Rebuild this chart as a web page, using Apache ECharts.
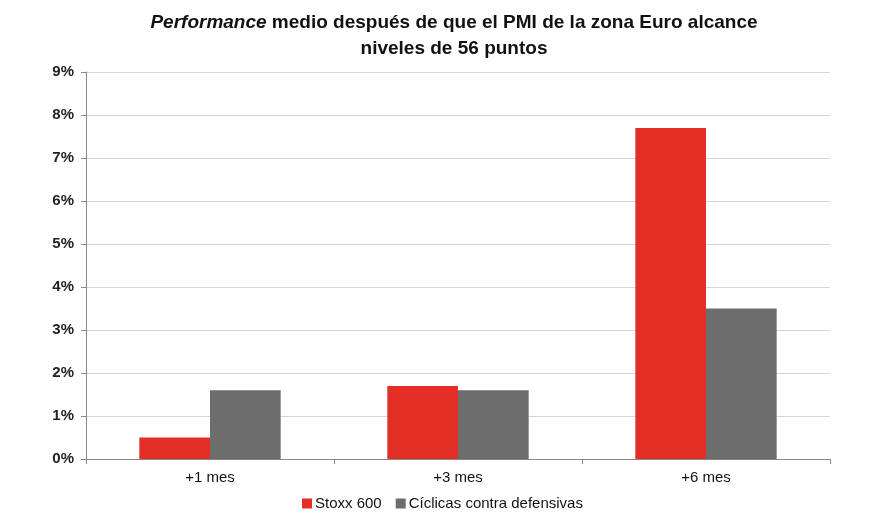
<!DOCTYPE html>
<html><head><meta charset="utf-8">
<script src="https://cdn.jsdelivr.net/npm/echarts@6/dist/echarts.min.js"></script>
<style>html,body{margin:0;padding:0;background:#fff}#c{width:886px;height:522px}</style>
</head><body><div id="c"></div>
<script>
var categories = ['+1 mes', '+3 mes', '+6 mes'];
var stoxx600 = [0.5, 1.7, 7.7];
var ciclicas = [1.6, 1.6, 3.5];
var yTicks = [0, 1, 2, 3, 4, 5, 6, 7, 8, 9];
var seriesNames = ['Stoxx 600', 'Cíclicas contra defensivas'];

var chart = echarts.init(document.getElementById('c'));
var font = 'Liberation Sans, Arial, sans-serif';
chart.setOption({
  animation: false,
  title: {
    text: '{i|Performance} medio después de que el PMI de la zona Euro alcance\nniveles de 56 puntos',
    left: 449, top: 5, textAlign: 'center',
    textStyle: {
      fontFamily: font, fontSize: 19, fontWeight: 'bold', color: '#111', lineHeight: 26,
      rich: { i: { fontFamily: font, fontSize: 19, fontWeight: 'bold', fontStyle: 'italic', color: '#111', lineHeight: 26 } }
    }
  },
  legend: {
    data: seriesNames, bottom: 6, left: 297, itemWidth: 10, itemHeight: 10, itemGap: 14,
    icon: 'rect',
    textStyle: { fontFamily: font, fontSize: 15, color: '#111', padding: [0, 0, 0, -2] }
  },
  grid: { left: 86, right: 56, top: 72, bottom: 63 },
  xAxis: {
    type: 'category', data: categories,
    axisLine: { lineStyle: { color: '#888', width: 1 } },
    axisTick: { show: true, length: 5, lineStyle: { color: '#888' } },
    axisLabel: { fontFamily: font, fontSize: 15, color: '#111', margin: 11 }
  },
  yAxis: {
    type: 'value', min: yTicks[0], max: yTicks[yTicks.length - 1], interval: 1,
    axisLine: { show: true, lineStyle: { color: '#888', width: 1 } },
    axisTick: { show: true, length: 5, lineStyle: { color: '#888' } },
    splitLine: { lineStyle: { color: '#d6d6d6', width: 1 } },
    axisLabel: { fontFamily: font, fontSize: 15, fontWeight: 'bold', color: '#222', margin: 12, formatter: '{value}%' }
  },
  series: [
    { name: seriesNames[0], type: 'bar', data: stoxx600, barGap: '0%', barCategoryGap: '43%',
      itemStyle: { color: '#e32f26' } },
    { name: seriesNames[1], type: 'bar', data: ciclicas, barGap: '0%', barCategoryGap: '43%',
      itemStyle: { color: '#6d6d6d' } }
  ]
});
</script></body></html>
